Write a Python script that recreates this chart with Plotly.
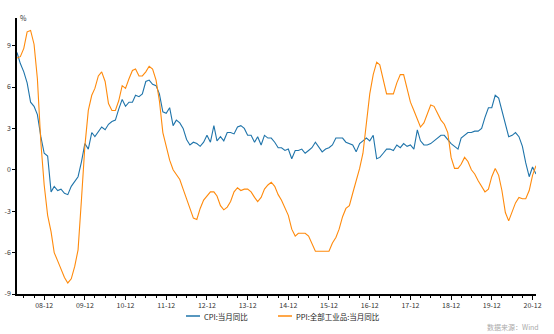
import pandas as pd
import plotly.graph_objects as go

start_month = "2008-04-01"
cpi = [
    8.5, 7.7, 7.1, 6.3, 4.9, 4.6, 4.0, 2.4, 1.2,
    1.0, -1.6, -1.2, -1.5, -1.4, -1.7, -1.8, -1.2, -0.8, -0.5, 0.6, 1.9,
    1.5, 2.7, 2.4, 2.8, 3.1, 2.9, 3.3, 3.5, 3.6, 4.4, 5.1, 4.6,
    4.9, 4.9, 5.4, 5.3, 5.5, 6.4, 6.5, 6.2, 6.1, 5.5, 4.2, 4.1,
    4.5, 3.2, 3.6, 3.4, 3.0, 2.2, 1.8, 2.0, 1.9, 1.7, 2.0, 2.5,
    2.0, 3.2, 2.1, 2.4, 2.1, 2.7, 2.7, 2.6, 3.1, 3.2, 3.0, 2.5,
    2.5, 2.0, 2.4, 1.8, 2.5, 2.3, 2.3, 2.0, 1.6, 1.6, 1.4, 1.5,
    0.8, 1.4, 1.4, 1.5, 1.2, 1.4, 1.6, 2.0, 1.6, 1.3, 1.5, 1.6,
    1.8, 2.3, 2.3, 2.3, 2.0, 1.9, 1.8, 1.3, 1.9, 2.1, 2.3, 2.1,
    2.5, 0.8, 0.9, 1.2, 1.5, 1.5, 1.4, 1.8, 1.6, 1.9, 1.7, 1.8,
    1.5, 2.9, 2.1, 1.8, 1.8, 1.9, 2.1, 2.3, 2.5, 2.5, 2.2, 1.9,
    1.7, 1.5, 2.3, 2.5, 2.7, 2.7, 2.8, 2.8, 3.0, 3.8, 4.5, 4.5,
    5.4, 5.2, 4.3, 3.3, 2.4, 2.5, 2.7, 2.4, 1.7, 0.5, -0.5, 0.2,
    -0.3,
]
ppi = [
    8.1, 8.2, 8.8, 10.0, 10.1, 9.1, 6.6, 2.0, -1.1,
    -3.3, -4.5, -6.0, -6.6, -7.2, -7.8, -8.2, -7.9, -7.0, -5.8, -2.1, 1.7,
    4.3, 5.4, 5.9, 6.8, 7.1, 6.4, 4.8, 4.3, 4.3, 5.0, 6.1, 5.9,
    6.6, 7.2, 7.3, 6.8, 6.8, 7.1, 7.5, 7.3, 6.5, 5.0, 2.7, 1.7,
    0.7, 0.0, -0.3, -0.7, -1.4, -2.1, -2.9, -3.5, -3.6, -2.8, -2.2, -1.9,
    -1.6, -1.6, -1.9, -2.6, -2.9, -2.7, -2.3, -1.6, -1.3, -1.5, -1.4, -1.4,
    -1.6, -2.0, -2.3, -2.0, -1.4, -1.1, -0.9, -1.2, -1.8, -2.2, -2.7, -3.3,
    -4.3, -4.8, -4.6, -4.6, -4.6, -4.8, -5.4, -5.9, -5.9, -5.9, -5.9, -5.9,
    -5.3, -4.9, -4.3, -3.4, -2.8, -2.6, -1.7, -0.8, 0.1, 1.2, 3.3, 5.5,
    6.9, 7.8, 7.6, 6.4, 5.5, 5.5, 5.5, 6.3, 6.9, 6.9, 5.8, 4.9,
    4.3, 3.7, 3.1, 3.4, 4.1, 4.7, 4.6, 4.1, 3.6, 3.3, 2.7, 0.9,
    0.1, 0.1, 0.4, 0.9, 0.6, 0.0, -0.3, -0.8, -1.2, -1.6, -1.4, -0.5,
    0.1, -0.4, -1.5, -3.1, -3.7, -3.0, -2.4, -2.0, -2.1, -2.1, -1.5, -0.4,
    0.3,
]
dates = pd.date_range(start_month, periods=len(cpi), freq="MS")
y_ticks = [-9, -6, -3, 0, 3, 6, 9]
series_names = ["CPI:当月同比", "PPI:全部工业品:当月同比"]
colors = ["#1f74aa", "#ff8a0c"]

FONT = "Noto Sans CJK SC, Noto Sans, sans-serif"
W, H = 554, 334
ML, MR, MT, MB = 17, 18, 18, 40
PW, PH = W - ML - MR, H - MT - MB

fig = go.Figure()
for name, vals, col in zip(series_names, [cpi, ppi], colors):
    fig.add_trace(go.Scatter(x=dates, y=vals, mode="lines", name=name,
                             line=dict(color=col, width=1.1)))

fig.update_layout(
    width=W, height=H,
    margin=dict(l=ML, r=MR, t=MT, b=MB, autoexpand=False),
    paper_bgcolor="white", plot_bgcolor="white",
    font=dict(family=FONT, size=7, color="#222"),
    showlegend=False,
    xaxis=dict(
        range=[dates[0], dates[-1]], automargin=False,
        showgrid=False, zeroline=False,
        showline=True, linecolor="black", linewidth=1.5,
        ticks="outside", ticklen=4, tickcolor="black", tickwidth=1,
        tick0="2008-12-01", dtick="M12", tickformat="%y-%m",
        tickfont=dict(size=7, color="#333"),
        minor=dict(ticks="outside", ticklen=2, dtick="M3", tick0="2008-12-01",
                   tickcolor="black", showgrid=False),
    ),
    yaxis=dict(
        range=[-9, 11], automargin=False,
        showgrid=False, zeroline=False,
        showline=True, linecolor="black", linewidth=1.5,
        ticks="outside", ticklen=3, tickcolor="black",
        tickvals=y_ticks, ticktext=[str(v) for v in y_ticks],
        tickfont=dict(size=7, color="#333"),
    ),
)

def px_x(x):
    return (x - ML) / PW

def px_y(y):
    return (H - MB - y) / PH

# custom legend
legend_items = [(186, 200, 202), (278, 292, 294)]
for (x0, x1, xt), name, col in zip(legend_items, series_names, colors):
    fig.add_shape(type="line", xref="paper", yref="paper",
                  x0=px_x(x0), x1=px_x(x1), y0=px_y(316), y1=px_y(316),
                  line=dict(color=col, width=1.5))
    fig.add_annotation(text=name, xref="paper", yref="paper", x=px_x(xt), y=px_y(316),
                       xanchor="left", yanchor="middle", showarrow=False,
                       font=dict(size=7.5, color="#222"))

fig.add_annotation(text="%", xref="paper", yref="paper", x=0, y=1,
                   xanchor="left", yanchor="middle", showarrow=False,
                   font=dict(size=7, color="#333"), xshift=1)
fig.add_annotation(text="数据来源：Wind", xref="paper", yref="paper", x=px_x(541), y=px_y(327),
                   xanchor="right", yanchor="middle", showarrow=False,
                   font=dict(size=7, color="#aaa"))

fig.write_html("out.html")
